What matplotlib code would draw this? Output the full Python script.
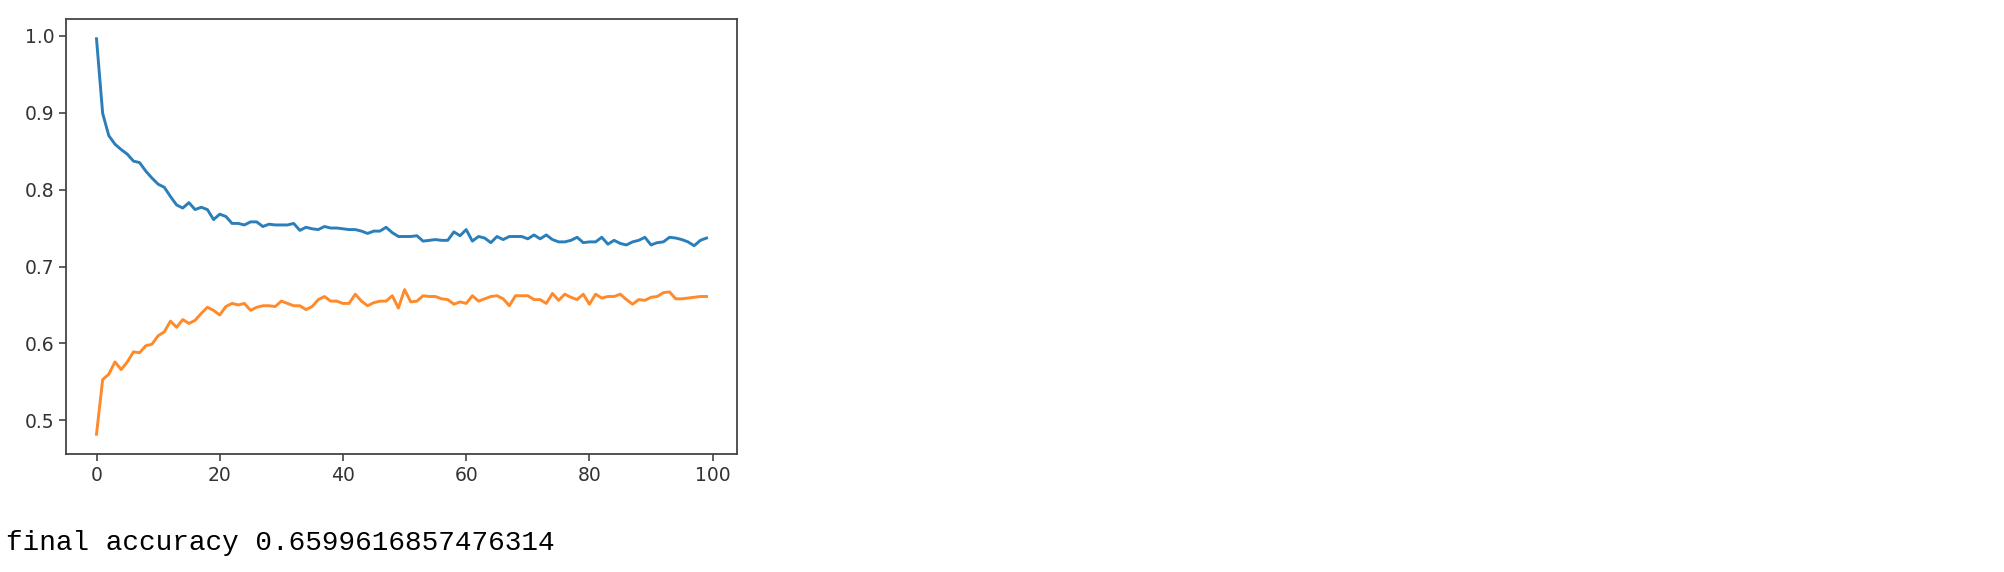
import numpy as np
import matplotlib
matplotlib.use("Agg")
import matplotlib.pyplot as plt

# loss per epoch (blue) and accuracy per epoch (orange)
loss = [0.996, 0.899, 0.870, 0.859, 0.852, 0.846, 0.837, 0.835, 0.824, 0.815,
        0.807, 0.803, 0.791, 0.780, 0.776, 0.783, 0.774, 0.777, 0.774, 0.761,
        0.768, 0.765, 0.756, 0.756, 0.754, 0.758, 0.758, 0.752, 0.755, 0.754,
        0.754, 0.754, 0.756, 0.747, 0.751, 0.749, 0.748, 0.752, 0.750, 0.750,
        0.749, 0.748, 0.748, 0.746, 0.743, 0.746, 0.746, 0.751, 0.744, 0.739,
        0.739, 0.739, 0.740, 0.733, 0.734, 0.735, 0.734, 0.734, 0.745, 0.740,
        0.748, 0.733, 0.739, 0.737, 0.731, 0.739, 0.735, 0.739, 0.739, 0.739,
        0.736, 0.741, 0.736, 0.741, 0.735, 0.732, 0.732, 0.734, 0.738, 0.731,
        0.732, 0.732, 0.738, 0.729, 0.734, 0.730, 0.728, 0.732, 0.734, 0.738,
        0.728, 0.731, 0.732, 0.738, 0.737, 0.735, 0.732, 0.727, 0.734, 0.737]

acc = [0.482, 0.553, 0.560, 0.576, 0.566, 0.576, 0.589, 0.588, 0.597, 0.599,
       0.610, 0.615, 0.629, 0.621, 0.631, 0.626, 0.630, 0.639, 0.647, 0.643,
       0.637, 0.648, 0.652, 0.650, 0.652, 0.643, 0.647, 0.649, 0.649, 0.648,
       0.655, 0.652, 0.649, 0.649, 0.644, 0.648, 0.657, 0.661, 0.655, 0.655,
       0.652, 0.652, 0.664, 0.655, 0.649, 0.653, 0.655, 0.655, 0.662, 0.646,
       0.670, 0.654, 0.655, 0.662, 0.661, 0.661, 0.658, 0.657, 0.651, 0.654,
       0.652, 0.662, 0.655, 0.658, 0.661, 0.662, 0.658, 0.649, 0.662, 0.662,
       0.662, 0.657, 0.657, 0.652, 0.665, 0.656, 0.664, 0.660, 0.657, 0.664,
       0.651, 0.664, 0.659, 0.661, 0.661, 0.664, 0.657, 0.651, 0.657, 0.656,
       0.660, 0.661, 0.666, 0.667, 0.658, 0.658, 0.659, 0.660, 0.661, 0.661]

final_text = "final accuracy 0.6599616857476314"

fig = plt.figure(figsize=(20.04, 5.72), dpi=100)
ax = fig.add_axes([66 / 2004, 1 - 454 / 572, 671 / 2004, 435 / 572])

epochs = np.arange(len(loss))
ax.plot(epochs, loss, color="#2a7fba", linewidth=2.1)
ax.plot(epochs, acc, color="#ff8a2a", linewidth=2.1)

ax.set_xticks([0, 20, 40, 60, 80, 100])
ax.set_yticks([0.5, 0.6, 0.7, 0.8, 0.9, 1.0])
ax.tick_params(labelsize=13.5, length=5, width=1.2, colors="#444444", labelcolor="#333333")
for s in ax.spines.values():
    s.set_color("#444444")
    s.set_linewidth(1.3)

fig.text(6 / 2004, 1 - 550 / 572, final_text, family="Liberation Mono",
         fontsize=20, va="baseline", ha="left", color="black")

plt.savefig("out.png", dpi=100)
